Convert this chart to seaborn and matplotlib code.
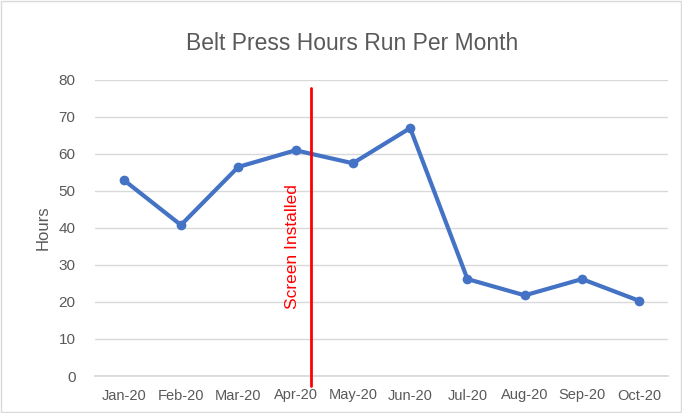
import numpy as np
import pandas as pd
import matplotlib
matplotlib.use("Agg")
import matplotlib.pyplot as plt
import seaborn as sns

# chart data
months = ["Jan-20", "Feb-20", "Mar-20", "Apr-20", "May-20",
          "Jun-20", "Jul-20", "Aug-20", "Sep-20", "Oct-20"]
hours = [53.0, 40.8, 56.5, 61.0, 57.5, 67.0, 26.2, 21.8, 26.2, 20.3]
screen_pos = 3.27  # between Apr and May
screen_label = "Screen Installed"

df = pd.DataFrame({"Month": months, "Hours": hours, "idx": np.arange(len(months))})

sns.set_theme(style="white")
plt.rcParams["font.family"] = ["Liberation Sans", "DejaVu Sans"]

grey = "#595959"
fig = plt.figure(figsize=(6.82, 4.13), dpi=100)
ax = fig.add_axes([95 / 682, 1 - 376 / 413, 573 / 682, 296 / 413])

sns.lineplot(data=df, x="idx", y="Hours", ax=ax, color="#4472C4", lw=3,
             marker="o", markersize=7, markeredgewidth=0, zorder=3)

ax.set_xlim(-0.5, len(months) - 0.5)
ax.set_ylim(0, 80)
ax.set_yticks(range(0, 81, 10))
ax.set_xticks(df["idx"])
ax.set_xticklabels(months)
ax.set_xticks(np.arange(-0.5, len(months), 1), minor=True)
ax.tick_params(axis="x", which="major", length=0, pad=9, labelsize=10.5, labelcolor=grey)
ax.tick_params(axis="x", which="minor", length=5, color="#D9D9D9", width=1)
ax.tick_params(axis="y", length=0, pad=14, labelsize=11, labelcolor=grey)
ax.yaxis.grid(True, color="#D9D9D9", lw=1)
for s in ["top", "right", "left"]:
    ax.spines[s].set_visible(False)
ax.spines["bottom"].set_color("#D9D9D9")
ax.set_xlabel("")
ax.set_ylabel("Hours", fontsize=12, color=grey, labelpad=6)

# screen installed marker
ax.plot([screen_pos, screen_pos], [77.8, -2.7], color="red", lw=2, clip_on=False, zorder=4)
ax.text(screen_pos - 0.32, 35.0, screen_label, rotation=90, color="red",
        fontsize=12.5, ha="center", va="center")

fig.text(352 / 682, 1 - 43 / 413, "Belt Press Hours Run Per Month",
         ha="center", va="center", fontsize=16.5, color=grey)

fig.patches.append(plt.Rectangle((0.002, 0.002), 0.996, 0.996, transform=fig.transFigure,
                                 fill=False, edgecolor="#D9D9D9", lw=1))

fig.savefig("out.png", dpi=100)
